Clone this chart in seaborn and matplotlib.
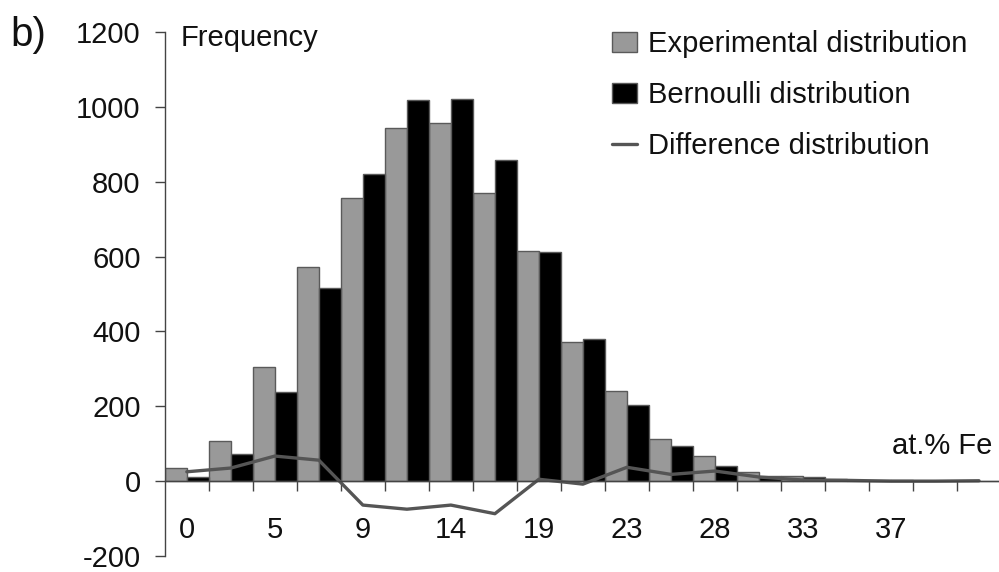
import numpy as np
import pandas as pd
import matplotlib
matplotlib.use("Agg")
import matplotlib.pyplot as plt
from matplotlib.patches import Patch
from matplotlib.lines import Line2D
from matplotlib.ticker import FixedLocator, NullFormatter
import seaborn as sns

# Fe content of each bin (at.%) and counts per bin
bins = ["0", "2", "5", "7", "9", "12", "14", "16", "19", "21",
        "23", "26", "28", "30", "33", "35", "37", "40", "42"]
experimental = [35, 107, 304, 573, 757, 944, 957, 771, 616, 371,
                240, 112, 67, 24, 13, 5, 2, 1, 1]
bernoulli = [10, 72, 237, 517, 821, 1019, 1021, 858, 611, 379,
             203, 94, 40, 13, 10, 3, 2, 1, 0]
shown_labels = ["0", "5", "9", "14", "19", "23", "28", "33", "37"]
y_ticks = [-200, 0, 200, 400, 600, 800, 1000, 1200]

series_names = ["Experimental distribution", "Bernoulli distribution",
                "Difference distribution"]

df = pd.DataFrame({
    "bin": bins * 2,
    "freq": experimental + bernoulli,
    "series": [series_names[0]] * len(bins) + [series_names[1]] * len(bins),
})
diff = pd.DataFrame({
    "pos": np.arange(len(bins)),
    "freq": np.array(experimental) - np.array(bernoulli),
})

sns.set_theme(style="white")
plt.rcParams["font.family"] = ["Liberation Sans", "DejaVu Sans"]
txt = "#111111"
fs = 21

fig = plt.figure(figsize=(9.99, 5.72), dpi=100)
ax = fig.add_axes([0.165, 0.0280, 1.002 - 0.165, 0.944 - 0.0280])

gray = "#999999"
sns.barplot(data=df, x="bin", y="freq", hue="series", order=bins,
            palette={series_names[0]: gray, series_names[1]: "#000000"},
            width=1.0, gap=0, edgecolor="#5a5a5a", linewidth=1.0,
            legend=False, ax=ax)
sns.lineplot(data=diff, x="pos", y="freq", color="#555555", linewidth=2.4,
             ax=ax, legend=False)

ax.set_xlim(-0.5, len(bins) - 0.5)
ax.set_ylim(-200, 1200)
ax.set_xlabel("")
ax.set_ylabel("")

# y axis
ax.set_yticks(y_ticks)
ax.set_yticklabels([str(v) for v in y_ticks], fontsize=fs, color=txt)
ax.tick_params(axis="y", direction="out", length=7.5, width=1.0,
               color="#444444", pad=10, left=True)
for side in ("top", "right"):
    ax.spines[side].set_visible(False)
ax.spines["left"].set_color("#444444")
ax.spines["left"].set_linewidth(1.0)

# x axis drawn along zero
ax.spines["bottom"].set_position(("data", 0))
ax.spines["bottom"].set_color("#444444")
ax.spines["bottom"].set_linewidth(1.0)
ax.spines["bottom"].set_zorder(5)
major_pos = list(range(0, len(bins), 2))[:len(shown_labels)]
ax.set_xticks(major_pos)
ax.set_xticklabels(shown_labels, fontsize=fs, color=txt)
ax.xaxis.set_minor_locator(FixedLocator(np.arange(0.5, len(bins) - 0.5, 1.0)))
ax.xaxis.set_minor_formatter(NullFormatter())
ax.tick_params(axis="x", which="major", length=0, pad=25, bottom=True)
ax.tick_params(axis="x", which="minor", direction="out", length=7.5,
               width=1.0, color="#444444", bottom=True)

fig.text(0.181, 0.9336, "Frequency", fontsize=fs, color=txt,
         ha="left", va="center")
fig.text(0.993, 0.220, "at.% Fe", fontsize=fs, color=txt,
         ha="right", va="center")
fig.text(0.010, 0.938, "b)", fontsize=29, color=txt, ha="left", va="center")

handles = [
    Patch(facecolor=gray, edgecolor="#5a5a5a", linewidth=1.0),
    Patch(facecolor="#000000", edgecolor="#5a5a5a", linewidth=1.0),
    Line2D([0], [0], color="#555555", linewidth=2.4),
]
leg = ax.legend(handles, series_names, loc="upper left",
                bbox_to_anchor=(0.6126, 0.947), bbox_transform=fig.transFigure,
                frameon=False, fontsize=fs, borderpad=0,
                handlelength=0.86, handleheight=0.7, handletextpad=0.38,
                labelspacing=0.79, borderaxespad=0)
for t in leg.get_texts():
    t.set_color(txt)

fig.savefig("out.png", dpi=100)
